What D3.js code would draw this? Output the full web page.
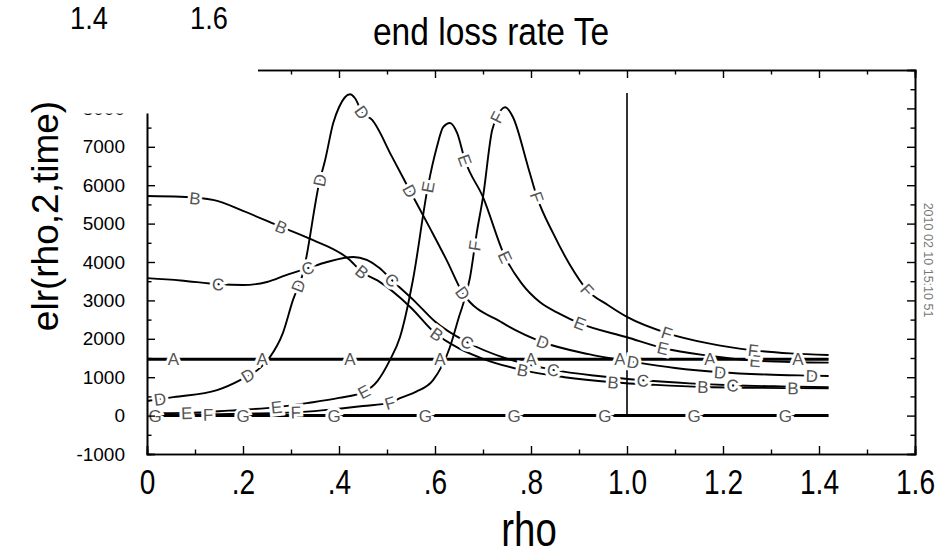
<!DOCTYPE html>
<html>
<head>
<meta charset="utf-8">
<script src="https://cdn.jsdelivr.net/npm/d3@7"></script>
<style>
  body { margin: 0; background: #fff; }
  svg { display: block; font-family: "Liberation Sans", Arial, sans-serif; }
</style>
</head>
<body>
  <script>
    // x axis ticks
    const rhoTicks = [0, 0.2, 0.4, 0.6, 0.8, 1.0, 1.2, 1.4, 1.6];
    const rhoTickLabels = ["0", ".2", ".4", ".6", ".8", "1.0", "1.2", "1.4", "1.6"];
    const rhoMinor = [0.1, 0.3, 0.5, 0.7, 0.9, 1.1, 1.3, 1.5];
    // y axis ticks
    const elrTicks = [-1000, 0, 1000, 2000, 3000, 4000, 5000, 6000, 7000, 8000, 9000];
    const elrMinor = [-500, 500, 1500, 2500, 3500, 4500, 5500, 6500, 7500, 8500];

    // curves, one per time slice
    const rhoA = [0, 1.42];
    const elrA = [1470, 1470];
    const labA = [0.055, 0.24, 0.423, 0.61, 0.8, 0.985, 1.173, 1.356];

    const rhoB = [0, 0.07, 0.14, 0.2, 0.28, 0.34, 0.42, 0.45, 0.48, 0.55, 0.6, 0.65, 0.7, 0.78, 0.87, 0.97, 1.06, 1.16, 1.25, 1.35, 1.42];
    const elrB = [5720, 5700, 5610, 5330, 4910, 4600, 4080, 3720, 3520, 2810, 2150, 1750, 1480, 1190, 1000, 870, 800, 745, 725, 715, 710];
    const labB = [0.1, 0.28, 0.448, 0.604, 0.783, 0.971, 1.158, 1.346];

    const rhoC = [0, 0.07, 0.15, 0.2, 0.25, 0.29, 0.335, 0.375, 0.43, 0.485, 0.51, 0.56, 0.6, 0.667, 0.75, 0.846, 0.94, 1.033, 1.13, 1.22, 1.32, 1.42];
    const elrC = [3580, 3520, 3420, 3400, 3480, 3660, 3840, 4000, 4130, 3840, 3530, 2950, 2450, 1910, 1480, 1190, 1030, 920, 840, 790, 760, 740];
    const labC = [0.148, 0.335, 0.51, 0.667, 0.846, 1.033, 1.22];

    const rhoD = [0, 0.055, 0.146, 0.194, 0.235, 0.256, 0.283, 0.304, 0.325, 0.36, 0.371, 0.388, 0.4, 0.423, 0.433, 0.448, 0.469, 0.51, 0.548, 0.59, 0.625, 0.658, 0.74, 0.825, 0.92, 1.0125, 1.1, 1.194, 1.29, 1.385, 1.42];
    const elrD = [380, 480, 664, 924, 1237, 1523, 2148, 3008, 3710, 6130, 6650, 7620, 8030, 8370, 8270, 7900, 7700, 6750, 5850, 4870, 4030, 3190, 2420, 1910, 1600, 1400, 1240, 1130, 1070, 1040, 1030];
    const labD = [0.027, 0.21, 0.315, 0.36, 0.448, 0.548, 0.658, 0.825, 1.0125, 1.194, 1.385];

    const rhoE = [0, 0.083, 0.17, 0.27, 0.333, 0.4, 0.452, 0.48, 0.506, 0.527, 0.554, 0.585, 0.604, 0.617, 0.631, 0.646, 0.6625, 0.7, 0.746, 0.78, 0.819, 0.86, 0.902, 1.0, 1.075, 1.17, 1.267, 1.35, 1.42];
    const elrE = [60, 70, 130, 220, 325, 460, 620, 900, 1445, 2040, 3530, 5950, 7000, 7510, 7620, 7360, 6650, 5690, 4130, 3450, 2950, 2650, 2400, 2040, 1760, 1560, 1430, 1390, 1380];
    const labE = [0.083, 0.27, 0.452, 0.585, 0.6625, 0.746, 0.902, 1.075, 1.267];

    const rhoF = [0, 0.127, 0.2, 0.319, 0.4, 0.45, 0.506, 0.527, 0.56, 0.596, 0.631, 0.648, 0.673, 0.6875, 0.7, 0.719, 0.729, 0.746, 0.7625, 0.794, 0.8125, 0.846, 0.88, 0.917, 0.96, 1.0, 1.083, 1.17, 1.263, 1.34, 1.42];
    const elrF = [10, 30, 50, 90, 180, 250, 330, 455, 620, 924, 1780, 2490, 3600, 4800, 5690, 7430, 7770, 8030, 7770, 6470, 5690, 4750, 3950, 3270, 2880, 2570, 2150, 1880, 1700, 1620, 1580];
    const labF = [0.127, 0.31, 0.506, 0.683, 0.729, 0.8125, 0.917, 1.083, 1.263];

    const rhoG = [0, 1.42];
    const elrG = [0, 0];
    const labG = [0.017, 0.2, 0.39, 0.58, 0.765, 0.954, 1.14, 1.33];

    const curveNames = ["A", "B", "C", "D", "E", "F", "G"];
    const curveRho = [rhoA, rhoB, rhoC, rhoD, rhoE, rhoF, rhoG];
    const curveElr = [elrA, elrB, elrC, elrD, elrE, elrF, elrG];
    const curveLab = [labA, labB, labC, labD, labE, labF, labG];

    // marker line at rho = 1
    const markRho = 1.0;
    const markElr = [0, 8400];

    const title = "end loss rate Te";
    const xTitle = "rho";
    const yTitle = "elr(rho,2,time)";
    const stamp = "2010 02 10 15:10 51";
    const leftoverLabels = ["1.4", "1.6"];

    const w = 944, h = 558;
    const mLeft = 147, mRight = 915, mTop = 70, mBottom = 454;

    const x = d3.scaleLinear().domain([0, 1.6]).range([mLeft, mRight]);
    const y = d3.scaleLinear().domain([-1000, 9000]).range([mBottom, mTop]);

    const svg = d3.select("body").append("svg")
      .attr("width", w).attr("height", h);

    // curves
    const series = curveNames.map((name, i) => ({
      name: name,
      pts: curveRho[i].map((r, j) => [r, curveElr[i][j]]),
      labels: curveLab[i]
    }));

    const line = d3.line()
      .x(d => x(d[0]))
      .y(d => y(d[1]))
      .curve(d3.curveMonotoneX);

    svg.append("g").selectAll("path")
      .data(series)
      .enter().append("path")
      .attr("d", d => line(d.pts))
      .attr("fill", "none")
      .attr("stroke", "#000")
      .attr("stroke-width", d => (d.name === "A" || d.name === "G") ? 3 : 1.9);

    svg.append("line")
      .attr("x1", x(markRho)).attr("x2", x(markRho))
      .attr("y1", y(markElr[0])).attr("y2", y(markElr[1]))
      .attr("stroke", "#000").attr("stroke-width", 1.6);

    // value along a curve
    function at(pts, r) {
      for (let j = 1; j < pts.length; j++) {
        if (r <= pts[j][0]) {
          const t = (r - pts[j - 1][0]) / (pts[j][0] - pts[j - 1][0]);
          return pts[j - 1][1] + t * (pts[j][1] - pts[j - 1][1]);
        }
      }
      return pts[pts.length - 1][1];
    }

    const labelData = [];
    series.forEach(s => {
      s.labels.forEach(r => {
        const d = 0.006;
        const x1 = x(r - d), y1 = y(at(s.pts, r - d));
        const x2 = x(r + d), y2 = y(at(s.pts, r + d));
        const ang = Math.atan2(y2 - y1, x2 - x1) * 180 / Math.PI;
        labelData.push({ name: s.name, px: x(r), py: y(at(s.pts, r)), ang: ang });
      });
    });

    svg.append("g").selectAll("text")
      .data(labelData)
      .enter().append("text")
      .attr("transform", d => `translate(${d.px},${d.py}) rotate(${d.ang})`)
      .attr("text-anchor", "middle")
      .attr("dy", "0.36em")
      .attr("font-size", 17)
      .attr("fill", "#555")
      .attr("stroke", "#fff")
      .attr("stroke-width", 6)
      .attr("paint-order", "stroke")
      .text(d => d.name);

    // frame
    const frame = svg.append("g");

    const gx = frame.append("g").attr("transform", `translate(0,${mBottom})`)
      .call(d3.axisBottom(x).tickValues(rhoTicks).tickSize(-8).tickPadding(14)
        .tickFormat((d, i) => rhoTickLabels[i]));
    gx.append("g").call(d3.axisBottom(x).tickValues(rhoMinor).tickSize(-4.5).tickFormat(""));
    frame.append("g").attr("transform", `translate(0,${mTop})`)
      .call(d3.axisTop(x).tickValues(rhoTicks).tickSize(-8).tickFormat(""));
    frame.append("g").attr("transform", `translate(0,${mTop})`)
      .call(d3.axisTop(x).tickValues(rhoMinor).tickSize(-4.5).tickFormat(""));

    frame.append("g").attr("transform", `translate(${mLeft},0)`)
      .call(d3.axisLeft(y).tickValues(elrTicks).tickSize(-8).tickPadding(22).tickFormat(d => String(d)))
      .call(g => g.selectAll("text").attr("font-family", "Liberation Sans, sans-serif").attr("font-size", 19).attr("fill", "#000"));
    frame.append("g").attr("transform", `translate(${mLeft},0)`)
      .call(d3.axisLeft(y).tickValues(elrMinor).tickSize(-4.5).tickFormat(""));
    frame.append("g").attr("transform", `translate(${mRight},0)`)
      .call(d3.axisRight(y).tickValues(elrTicks).tickSize(-8).tickFormat(""));
    frame.append("g").attr("transform", `translate(${mRight},0)`)
      .call(d3.axisRight(y).tickValues(elrMinor).tickSize(-4.5).tickFormat(""));

    frame.selectAll(".domain").attr("stroke", "#000").attr("stroke-width", 1.6);
    frame.selectAll(".tick line").attr("stroke", "#000").attr("stroke-width", 1.4);
    gx.selectAll("text")
      .attr("font-family", "Liberation Sans, sans-serif")
      .attr("font-size", 36).attr("fill", "#000")
      .attr("transform", "scale(0.78,1)");

    // pasted-over corner from the figure above
    svg.append("rect").attr("x", 0).attr("y", 31).attr("width", 258).attr("height", 82.5).attr("fill", "#fff");
    svg.append("g").selectAll("text")
      .data(leftoverLabels)
      .enter().append("text")
      .attr("transform", (d, i) => `translate(${89 + i * 120},29) scale(0.85,1)`)
      .attr("text-anchor", "middle")
      .attr("font-size", 32)
      .text(d => d);

    svg.append("text")
      .attr("transform", "translate(491,45) scale(0.86,1)")
      .attr("text-anchor", "middle")
      .attr("font-size", 39)
      .text(title);

    svg.append("text")
      .attr("transform", "translate(529,546) scale(0.8,1)")
      .attr("text-anchor", "middle")
      .attr("font-size", 48)
      .text(xTitle);

    svg.append("text")
      .attr("transform", "translate(58,216) rotate(-90)")
      .attr("text-anchor", "middle")
      .attr("font-size", 37)
      .text(yTitle);

    svg.append("text")
      .attr("transform", "translate(924,260) rotate(90)")
      .attr("text-anchor", "middle")
      .attr("font-size", 12.5)
      .attr("fill", "#777")
      .text(stamp);
  </script>
</body>
</html>
